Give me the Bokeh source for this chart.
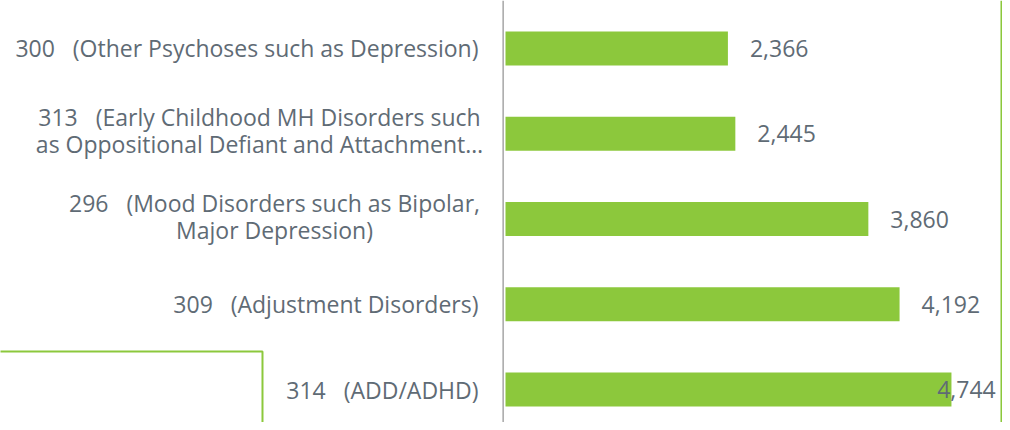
import numpy as np
from bokeh.plotting import figure
from bokeh.models import ColumnDataSource, Span, BoxAnnotation
from bokeh.core.properties import value
from bokeh.embed import file_html
from bokeh.resources import INLINE

# Data (top to bottom as displayed)
codes = ["300", "313", "296", "309", "314"]
descriptions = [
    "(Other Psychoses such as Depression)",
    "(Early Childhood MH Disorders such\nas Oppositional Defiant and Attachment\u2026",
    "(Mood Disorders such as Bipolar,\nMajor Depression)",
    "(Adjustment Disorders)",
    "(ADD/ADHD)",
]
counts = [2366, 2445, 3860, 4192, 4744]

GREEN = "#8cc83c"
TEXT = "#5f6b75"
FONT = "Open Sans"
FS = "23px"
SEP = "\u00a0\u00a0\u00a0"

n = len(codes)
ypos = list(range(n - 1, -1, -1))  # top item highest

labels = [f"{c}{SEP}{d}" for c, d in zip(codes, descriptions)]

p = figure(width=1002, height=422, output_backend="svg", toolbar_location=None,
           x_range=(-5372, 5287), y_range=(-0.387, 4.563),
           min_border=0, min_border_left=0, min_border_right=0,
           min_border_top=0, min_border_bottom=0)
p.axis.visible = False
p.grid.visible = False
p.outline_line_color = None
p.background_fill_color = "white"

# axis line
p.add_layout(Span(location=-25, dimension="height", line_color="#a6a6a6", line_width=1.5))

src = ColumnDataSource(dict(y=ypos, v=counts))
p.hbar(y="y", left=0, right="v", height=0.4, source=src,
       fill_color=GREEN, line_color=None)

# value labels, clamped so they stay inside the frame
lx = np.minimum(np.array(counts) + 234, 4592)
src_v = ColumnDataSource(dict(x=lx, y=ypos, t=[f"{c:,}" for c in counts]))
p.text(x="x", y="y", text="t", source=src_v, text_align="left",
       text_baseline="middle", text_color=TEXT, text_font=value(FONT),
       text_font_size=FS)

# category labels
single = [i for i, l in enumerate(labels) if "\n" not in l]
multi = [i for i, l in enumerate(labels) if "\n" in l]
src_s = ColumnDataSource(dict(x=[0] * len(single), y=[ypos[i] for i in single],
                              t=[labels[i] for i in single]))
p.text(x="x", y="y", text="t", source=src_s, text_align="right",
       text_baseline="middle", text_color=TEXT, text_font=value(FONT),
       text_font_size=FS, x_offset=-27)

centers = {1: -246, 2: -231}
for i in multi:
    lines = labels[i].split("\n")
    m = len(lines)
    for k, ln in enumerate(lines):
        p.text(x=[0], y=[ypos[i]], text=[ln], text_align="center",
               text_baseline="middle", text_color=TEXT, text_font=value(FONT),
               text_font_size=FS, x_offset=centers[i],
               y_offset=(k - (m - 1) / 2) * 27 - 3)

# decorative green frame lines
p.add_layout(Span(location=5276, dimension="height", line_color=GREEN, line_width=2))
p.add_layout(BoxAnnotation(left=-8000, right=-2585, top=0.446, bottom=-2,
                           fill_alpha=0, line_color=GREEN, line_width=2,
                           line_alpha=1))

open("out.html", "w").write(file_html(p, INLINE))
